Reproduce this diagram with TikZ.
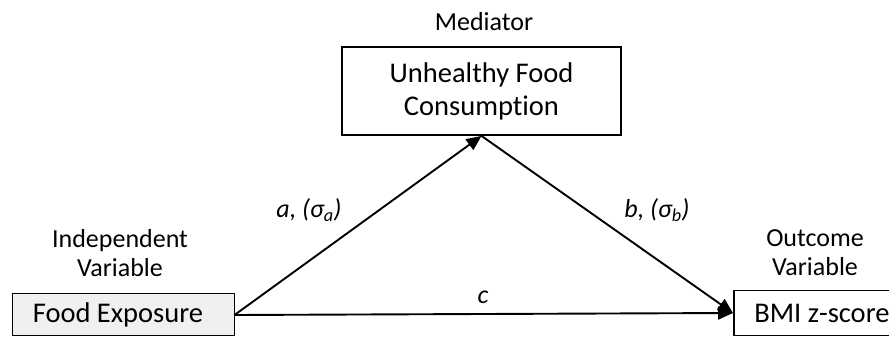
\documentclass[tikz,border=0pt]{standalone}
\usepackage{fontspec}
\setmainfont[Ligatures=NoCommon]{Carlito}
\usetikzlibrary{arrows.meta}
\begin{document}
\begin{tikzpicture}[x=1pt,y=1pt,
  boxtext/.style={font=\fontsize{28.5}{33}\selectfont},
  lbl/.style={font=\fontsize{26}{29}\selectfont, align=center},
  vbox/.style={draw=black, line width=1.8pt, inner sep=0pt, boxtext, align=center},
  conn/.style={line width=1.9pt, -{Triangle[length=15pt,width=13pt]}},
  coef/.style={font=\fontsize{26}{29}\selectfont\itshape}
]
\useasboundingbox (0,0) rectangle (889,337);
\node[vbox, fill=black!6, minimum width=222pt, minimum height=42pt, line width=1pt] (food) at (123,22) {Food Exposure\hspace{10pt}};
\node[vbox, fill=white, minimum width=279pt, minimum height=88pt] (med) at (481.5,246) {Unhealthy Food\\Consumption};
\node[vbox, fill=white, minimum width=172pt, minimum height=45pt, anchor=west] (bmi) at (733,24) {\hspace{4pt}BMI z-score\hfill};
\node[lbl] (indep) at (120,84) {Independent\\Variable};
\node[lbl] (medlbl) at (484,315) {Mediator};
\node[lbl] (outlbl) at (815,84) {Outcome\\Variable};
\draw[conn] (food.east) -- (med.south);
\draw[conn] (med.south) -- (bmi.west);
\draw[conn] (food.east) -- (bmi.west);
\node[coef] (alab) at (309,127) {a, (σ\textsubscript{a})};
\node[coef] (blab) at (657,127) {b, (σ\textsubscript{b})};
\node[coef] (clab) at (483,40) {c};
\end{tikzpicture}
\end{document}
